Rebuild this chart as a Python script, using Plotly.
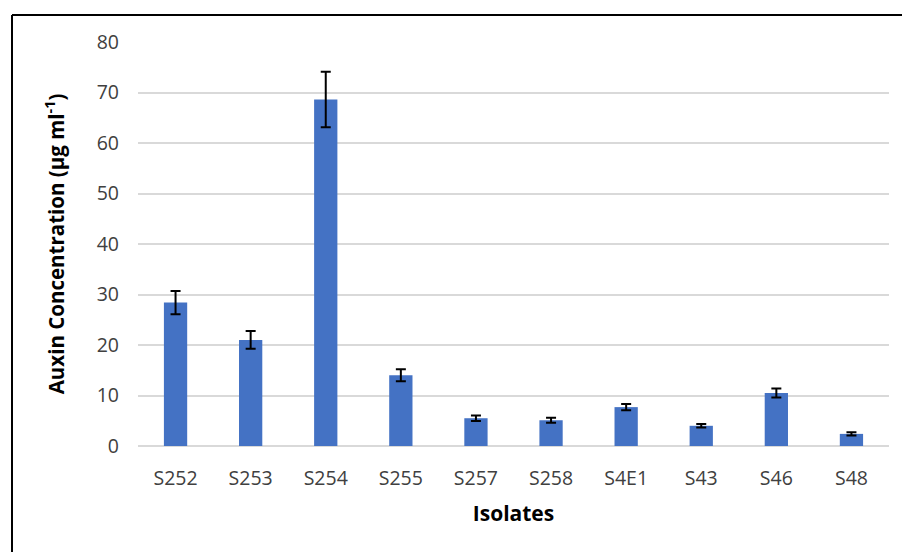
import plotly.graph_objects as go

isolates = ["S252", "S253", "S254", "S255", "S257", "S258", "S4E1", "S43", "S46", "S48"]
auxin = [28.4, 21.0, 68.6, 14.0, 5.5, 5.1, 7.7, 4.0, 10.5, 2.4]
auxin_err = [2.3, 1.75, 5.5, 1.2, 0.55, 0.5, 0.6, 0.35, 0.9, 0.3]
y_ticks = [0, 10, 20, 30, 40, 50, 60, 70, 80]

FONT = "Open Sans"

fig = go.Figure()
fig.add_trace(go.Bar(
    x=isolates,
    y=auxin,
    marker=dict(color="#4472C4", line=dict(width=0)),
    error_y=dict(type="data", array=auxin_err, visible=True,
                 color="black", thickness=2, width=5),
    showlegend=False,
))

top_y = (552 - 106 - 15) / 404
left_x = -126 / 751

fig.update_layout(
    width=902, height=552,
    margin=dict(l=138, r=13, t=42, b=106),
    paper_bgcolor="white",
    plot_bgcolor="white",
    bargap=0.69,
    font=dict(family=FONT, size=19, color="#404040"),
    shapes=[
        dict(type="line", xref="paper", yref="paper",
             x0=left_x, x1=left_x, y0=top_y, y1=-0.5,
             line=dict(color="black", width=2)),
        dict(type="line", xref="paper", yref="paper",
             x0=left_x, x1=1.2, y0=top_y, y1=top_y,
             line=dict(color="black", width=2)),
    ],
)

fig.update_xaxes(
    showgrid=False, showline=False, ticks="",
    ticklabelstandoff=18,
    tickfont=dict(family=FONT, size=19.5, color="#404040"),
    title=dict(text="<b>Isolates</b>", font=dict(family=FONT, size=21, color="black"),
               standoff=16),
)
fig.update_yaxes(
    range=[0, 80],
    tickvals=y_ticks,
    showgrid=True, gridcolor="#d9d9d9", gridwidth=1.5,
    zeroline=True, zerolinecolor="#d9d9d9", zerolinewidth=1.5,
    showline=False, ticks="",
    ticklabelstandoff=18,
    tickfont=dict(family=FONT, size=19.5, color="#404040"),
    title=dict(text="<b>Auxin Concentration (µg ml<sup>-1</sup>)</b>",
               font=dict(family=FONT, size=20.5, color="black"),
               standoff=26),
)

fig.write_html("out.html")
